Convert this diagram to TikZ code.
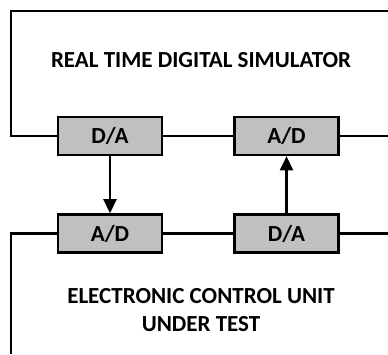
\documentclass[tikz,border=0pt]{standalone}
\usepackage{fontspec}
\setmainfont{Carlito}
\usetikzlibrary{arrows.meta}
\tikzset{
  conv/.style={draw=black, line width=2.6pt, fill=boxgray, minimum width=104pt,
    minimum height=38pt, inner sep=0pt, font=\fontsize{23}{27}\selectfont\bfseries},
  wire/.style={line width=2.6pt},
  sig/.style={line width=2.6pt, -{Triangle[width=13pt,length=14pt]}},
  title/.style={font=\fontsize{23}{28}\selectfont\bfseries, align=center}
}
\definecolor{boxgray}{HTML}{C0C0C0}
\begin{document}
\begin{tikzpicture}[x=1pt,y=-1pt]
\useasboundingbox (0,0) rectangle (388,354);
% converter blocks
\node[conv] (da1) at (110,136) {D/A};
\node[conv] (ad1) at (286.5,136) {A/D};
\node[conv] (ad2) at (110,233.5) {A/D};
\node[conv] (da2) at (286.5,233.5) {D/A};
% corner and edge points of the two frames
\coordinate (tr) at (388,11);
\coordinate (tl) at (11,11);
\coordinate (ltop) at (11,136);
\coordinate (rtop) at (388,136);
\coordinate (lbot) at (11,233.5);
\coordinate (lend) at (11,354);
\coordinate (rbot) at (388,233.5);
% simulator frame
\draw[wire] (tr) -- (tl) -- (ltop) -- (da1.west);
\draw[wire] (da1.east) -- (ad1.west);
\draw[wire] (ad1.east) -- (rtop);
% ECU frame
\draw[wire] (lend) -- (lbot) -- (ad2.west);
\draw[wire] (ad2.east) -- (da2.west);
\draw[wire] (da2.east) -- (rbot);
% signal paths
\draw[sig] (da1.south) -- (ad2.north);
\draw[sig] (da2.north) -- (ad1.south);
% labels
\node[title] (sim) at (201,60) {REAL TIME DIGITAL SIMULATOR};
\node[title] (ecu) at (201,310) {ELECTRONIC CONTROL UNIT\\UNDER TEST};
\end{tikzpicture}
\end{document}
